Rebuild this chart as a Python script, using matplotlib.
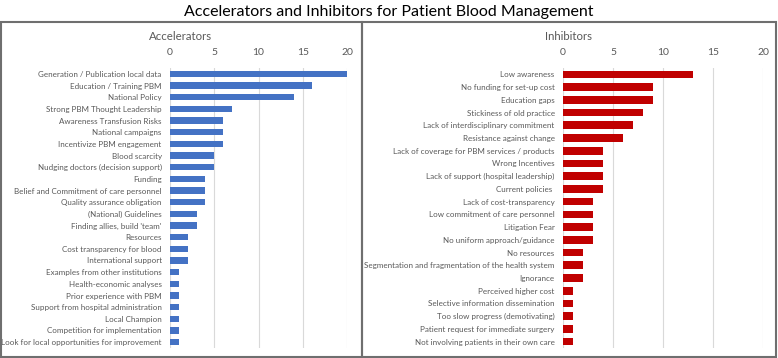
import matplotlib
matplotlib.use("Agg")
import matplotlib.pyplot as plt
from matplotlib.patches import Rectangle

acc_labels = ["Generation / Publication local data", "Education / Training PBM", "National Policy",
              "Strong PBM Thought Leadership", "Awareness Transfusion Risks", "National campaigns",
              "Incentivize PBM engagement", "Blood scarcity", "Nudging doctors (decision support)",
              "Funding", "Belief and Commitment of care personnel", "Quality assurance obligation",
              "(National) Guidelines", "Finding allies, build 'team'", "Resources",
              "Cost transparency for blood", "International support", "Examples from other institutions",
              "Health-economic analyses", "Prior experience with PBM", "Support from hospital administration",
              "Local Champion", "Competition for implementation", "Look for local opportunities for improvement"]
acc_values = [20, 16, 14, 7, 6, 6, 6, 5, 5, 4, 4, 4, 3, 3, 2, 2, 2, 1, 1, 1, 1, 1, 1, 1]

inh_labels = ["Low awareness", "No funding for set-up cost", "Education gaps", "Stickiness of old practice",
              "Lack of interdisciplinary commitment", "Resistance against change",
              "Lack of coverage for PBM services / products", "Wrong Incentives",
              "Lack of support (hospital leadership)", "Current policies ", "Lack of cost-transparency",
              "Low commitment of care personnel", "Litigation Fear", "No uniform approach/guidance",
              "No resources", "Segmentation and fragmentation of the health system", "Ignorance",
              "Perceived higher cost", "Selective information dissemination", "Too slow progress (demotivating)",
              "Patient request for immediate surgery", "Not involving patients in their own care"]
inh_values = [13, 9, 9, 8, 7, 6, 4, 4, 4, 4, 3, 3, 3, 3, 2, 2, 2, 1, 1, 1, 1, 1]

ticks = [0, 5, 10, 15, 20]

W, H = 778, 358
plt.rcParams['font.family'] = ['Lato', 'DejaVu Sans']
fig = plt.figure(figsize=(W / 100, H / 100), dpi=100)
txt = "#595959"

def fx(px): return px / W
def fy(py): return 1 - py / H

# panel boxes
for x0, x1 in [(1, 362), (362, 776)]:
    fig.add_artist(Rectangle((fx(x0), fy(357)), fx(x1 - x0), (357 - 22) / H,
                             transform=fig.transFigure, fill=False, edgecolor="#6f6f6f", lw=1.5))

fig.text(0.5, fy(12), "Accelerators and Inhibitors for Patient Blood Management",
         ha="center", va="center", fontsize=11.5, color="black")

def panel(x0, x1, labels, values, color, title, cx, barh):
    ax = fig.add_axes([fx(x0), fy(348), fx(x1 - x0), 280 / H])
    n = len(values)
    ax.barh(range(n), values, color=color, height=barh, zorder=2)
    ax.set_ylim(n - 0.5, -0.5)
    ax.set_xlim(0, 20)
    ax.set_xticks(ticks)
    ax.xaxis.grid(True, color="#d9d9d9", lw=0.8, zorder=0)
    ax.set_yticks(range(n))
    ax.set_yticklabels(labels, fontsize=5.75, color=txt)
    ax.tick_params(axis="y", length=0, pad=6)
    ax.tick_params(axis="x", top=True, labeltop=True, bottom=False, labelbottom=False,
                   length=0, pad=8, labelsize=7.5, labelcolor=txt)
    for s in ax.spines.values():
        s.set_visible(False)
    fig.text(fx(cx), fy(37), title, ha="center", va="center", fontsize=8.2, color=txt)
    return ax

panel(170, 347, acc_labels, acc_values, "#4472c4", "Accelerators", 181, 0.55)
panel(563, 763, inh_labels, inh_values, "#c00000", "Inhibitors", 569, 0.6)

fig.savefig("out.png", dpi=100)
